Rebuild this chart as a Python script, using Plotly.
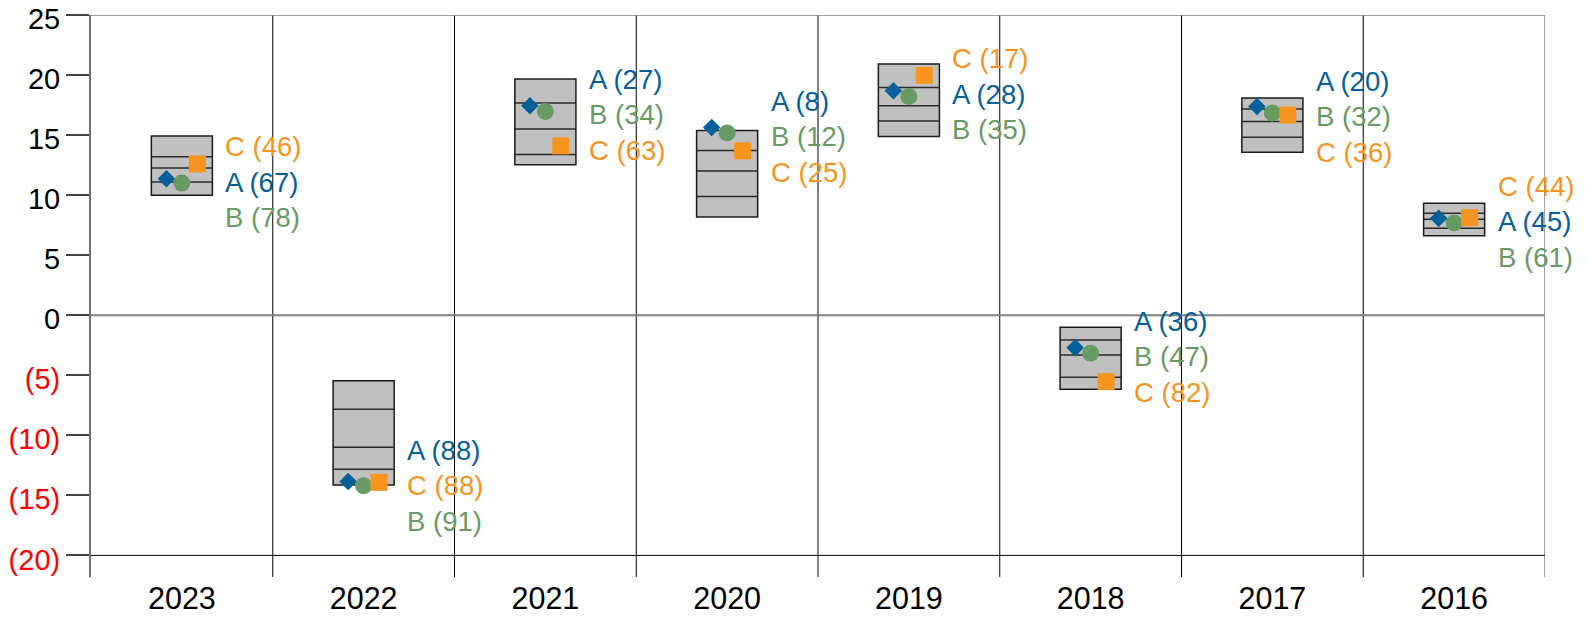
import plotly.graph_objects as go

years = ["2023", "2022", "2021", "2020", "2019", "2018", "2017", "2016"]

# grey range boxes and the three lines inside each
box_low = [10.0, -14.14, 12.52, 8.17, 14.88, -6.17, 13.58, 6.61]
box_high = [14.92, -5.45, 19.67, 15.38, 20.92, -1.0, 18.08, 9.33]
line_hi = [13.2, -7.83, 17.67, 13.72, 18.97, -2.06, 17.17, 8.5]
line_mid = [12.25, -11.0, 15.5, 12.0, 17.44, -3.31, 16.13, 8.0]
line_lo = [11.1, -12.83, 13.38, 9.88, 16.17, -5.17, 14.83, 7.25]

# series values and the numbers shown in brackets
a_vals = [11.36, -13.85, 17.44, 15.63, 18.69, -2.7, 17.38, 8.08]
b_vals = [11.0, -14.2, 16.97, 15.17, 18.22, -3.17, 16.83, 7.67]
c_vals = [12.6, -13.92, 14.1, 13.69, 19.97, -5.53, 16.67, 8.12]
a_rank = [67, 88, 27, 8, 28, 36, 20, 45]
b_rank = [78, 91, 34, 12, 35, 47, 32, 61]
c_rank = [46, 88, 63, 25, 17, 82, 36, 44]

y_ticks = [25, 20, 15, 10, 5, 0, -5, -10, -15, -20]

BLUE, GREEN, ORANGE = "#03609a", "#689a64", "#f7941d"
FONT = "Arial, Liberation Sans, sans-serif"
idx = list(range(len(years)))
BW = 0.336
OFF = 0.085

fig = go.Figure()
fig.add_trace(go.Bar(
    x=idx, y=[h - l for h, l in zip(box_high, box_low)], base=box_low, width=BW,
    marker=dict(color="#c0c0c0", line=dict(color="#1a1a1a", width=1.5)),
    showlegend=False, hoverinfo="skip"))

# inner lines of each box
lx, ly = [], []
for i in idx:
    for v in (line_hi[i], line_mid[i], line_lo[i]):
        lx += [i - BW / 2, i + BW / 2, None]
        ly += [v, v, None]
fig.add_trace(go.Scatter(x=lx, y=ly, mode="lines", line=dict(color="#2a2a2a", width=1.5),
                         showlegend=False, hoverinfo="skip"))

series = [("A", a_vals, a_rank, BLUE, "diamond", 13.5, -OFF),
          ("B", b_vals, b_rank, GREEN, "circle", 17, 0.0),
          ("C", c_vals, c_rank, ORANGE, "square", 17, OFF)]
for name, vals, _, col, sym, size, off in series:
    fig.add_trace(go.Scatter(
        x=[i + off for i in idx], y=vals, mode="markers", name=name,
        marker=dict(symbol=sym, size=size, color=col, line=dict(width=0)),
        showlegend=False))

# stacked labels, ordered by value, middle one at the median marker
for i in idx:
    order = sorted(series, key=lambda s: -s[1][i])
    mid = order[1][1][i]
    for k, (name, vals, rank, col, _, _, _) in enumerate(order):
        fig.add_annotation(
            x=i + 0.228, y=mid, yshift=-3.5 + (1 - k) * 35.5,
            text=f"{name} ({rank[i]})", showarrow=False,
            xanchor="left", yanchor="middle",
            font=dict(family=FONT, size=27.5, color=col))

# frame lines
ylo, yhi = -21.8, 25
for i in range(len(years) - 1):
    fig.add_shape(type="line", x0=i + 0.5, x1=i + 0.5, y0=ylo, y1=yhi,
                  line=dict(color="#000000", width=1), layer="below")
fig.add_shape(type="line", x0=len(years) - 0.5, x1=len(years) - 0.5, y0=ylo, y1=yhi,
              line=dict(color="#808080", width=1.5), layer="below")
fig.add_shape(type="line", x0=-0.5, x1=len(years) - 0.5, y0=25, y1=25,
              line=dict(color="#808080", width=1.5), layer="below")
fig.add_shape(type="line", x0=-0.5, x1=len(years) - 0.5, y0=0, y1=0,
              line=dict(color="#808080", width=2), layer="below")
fig.add_shape(type="line", x0=-0.5, x1=len(years) - 0.5, y0=-20, y1=-20,
              line=dict(color="#000000", width=1), layer="below")

tick_text = [str(v) if v >= 0 else f"<span style='color:#ff0000'>({-v})</span>" for v in y_ticks]

# the page body keeps its default 8px margin, so the figure is sized for that
fig.update_layout(
    width=1581, height=610,
    margin=dict(l=83, r=44, t=7, b=41),
    plot_bgcolor="white", paper_bgcolor="white",
    font=dict(family=FONT, size=30.5, color="#000000"),
    xaxis=dict(range=[-0.5, len(years) - 0.5], tickvals=idx, ticktext=years,
               showgrid=False, zeroline=False, showline=False, ticks="",
               automargin=False),
    yaxis=dict(range=[ylo, yhi], tickvals=y_ticks, ticktext=tick_text,
               tickfont=dict(size=29),
               showgrid=False, zeroline=False, showline=True, linecolor="#707070",
               linewidth=2, ticks="outside", ticklen=23, tickwidth=1.5,
               tickcolor="#404040", automargin=False, ticklabeloverflow="allow",
               ticklabelshift=4),
)

fig.write_html("out.html")
